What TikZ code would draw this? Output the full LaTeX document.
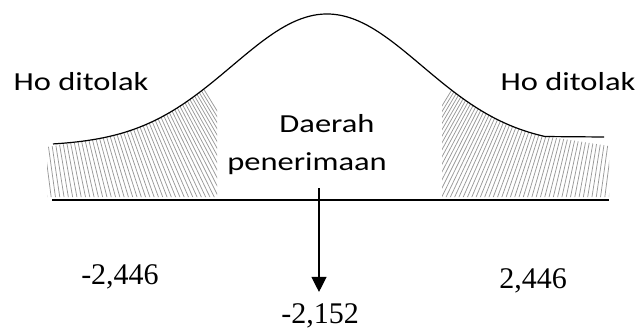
\documentclass[tikz,border=0pt]{standalone}
\usepackage{fontspec}
\setmainfont{Liberation Serif}
\newfontfamily\lblfont[FakeStretch=1.25]{Carlito}
\usetikzlibrary{positioning,arrows.meta}

\begin{document}
\begin{tikzpicture}[
  x=1pt, y=-1pt,
  lbl/.style={font=\lblfont\fontsize{26}{30}\selectfont, inner sep=0pt, anchor=base},
  num/.style={font=\fontsize{30}{34}\selectfont, inner sep=0pt, anchor=base},
  hatch/.style={gray!80, line width=0.75pt},
  bell/.style={line width=1.2pt},
  axis/.style={line width=1.5pt},
  arr/.style={-{Triangle[length=15pt, width=15pt]}, line width=1.2pt},
]
\useasboundingbox (0,0) rectangle (636,334);

% Hatched rejection regions
\begin{scope}
  \clip (47,197) -- (47,147) -- plot[domain=100:217, samples=40]
        (\x, {146-132*exp(-0.5*((\x-327)/95)^2)}) -- (217,197) -- cycle;
  \foreach \i in {0,...,52} {
    \pgfmathsetmacro{\s}{0.12+0.0095*\i}
    \draw[hatch] ({47+4.3*\i},198) -- ++({-\s*140},-140);
  }
\end{scope}
\begin{scope}
  \clip (442,197) -- plot[domain=442:540, samples=40]
        (\x, {146-132*exp(-0.5*((\x-327)/95)^2)}) -- (609,146) -- (609,197) -- cycle;
  \foreach \i in {0,...,52} {
    \pgfmathsetmacro{\s}{0.12+0.0095*\i}
    \draw[hatch] ({609-4.3*\i},198) -- ++({\s*140},-140);
  }
\end{scope}

% Normal curve and axis
\draw[bell] plot[domain=53:545, samples=120]
      (\x, {146-132*exp(-0.5*((\x-327)/95)^2)}) -- (604,137);
\draw[axis] (52,200) -- (609,200);

% Labels
\node[lbl] (tolakL) at (81,91) {Ho ditolak};
\node[lbl] (tolakR) at (568,91) {Ho ditolak};
\node[lbl] (daerah) at (327,132) {Daerah};
\node[lbl] (terima) at (307,170) {penerimaan};
\node[num] (kritL) at (120,284) {-2,446};
\node[num] (kritR) at (533,288) {2,446};
\node[num] (hitung) at (320,323) {-2,152};

% Arrow
\coordinate (arrtop) at (319,188);
\draw[arr, shorten >=11pt] (arrtop) -- (arrtop |- hitung.north);

\end{tikzpicture}
\end{document}
